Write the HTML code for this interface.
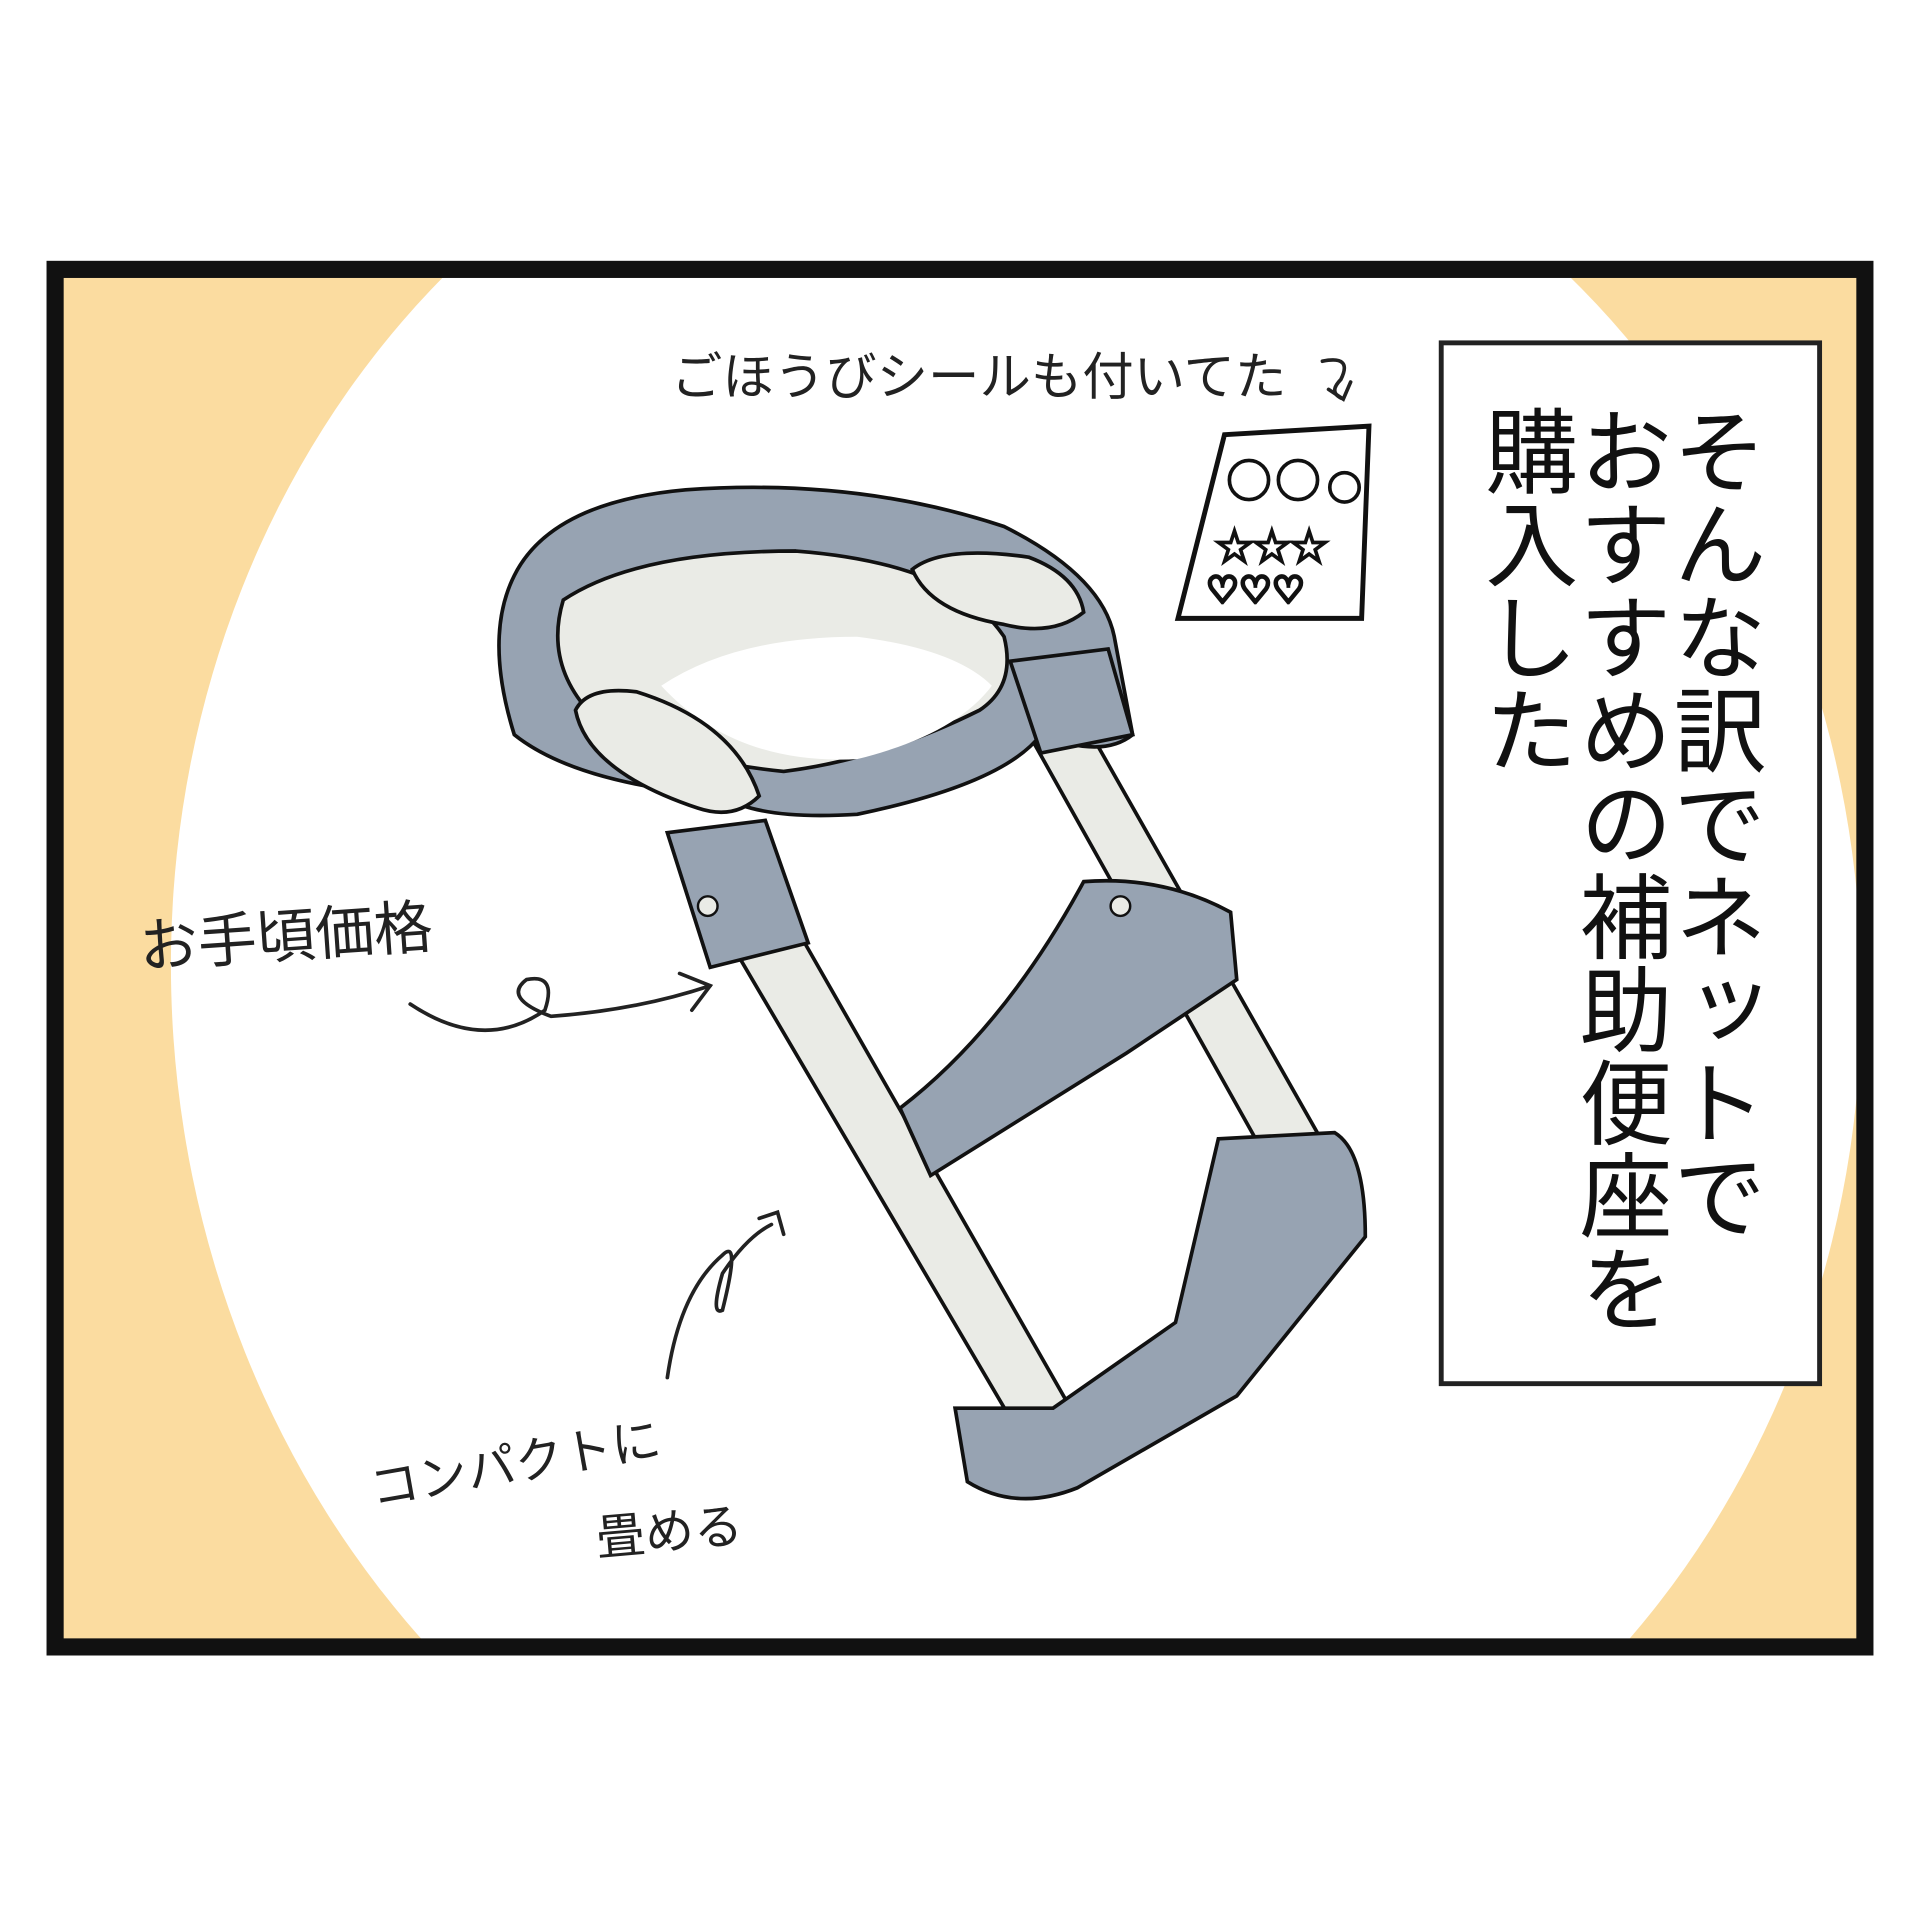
<!DOCTYPE html>
<html><head><meta charset="utf-8"><style>html,body{margin:0;padding:0;background:#fff}svg{display:block}</style></head>
<body>
<svg width="1920" height="1920" viewBox="0 0 1568 1568" xmlns="http://www.w3.org/2000/svg">
<defs><clipPath id="c"><rect x="45" y="220" width="1478" height="1125"/></clipPath></defs>
<rect width="1568" height="1568" fill="#fff"/>
<g clip-path="url(#c)">
<rect x="45" y="220" width="1478" height="1125" fill="#FBDCA0"/>
<ellipse cx="830" cy="800" rx="690" ry="770" fill="#fff" transform="rotate(-4 830 800)"/>
</g>
<rect x="45" y="220" width="1478" height="1125" fill="none" stroke="#111" stroke-width="14"/>
<rect x="1177" y="280" width="309" height="850" fill="#fff" stroke="#222" stroke-width="4"/>
<g font-family="'Liberation Sans','Noto Sans CJK JP',sans-serif" font-size="76" fill="#111">
<text x="1398" y="330" style="writing-mode:vertical-rl">そんな訳でネットで</text>
<text x="1321" y="330" style="writing-mode:vertical-rl">おすすめの補助便座を</text>
<text x="1244" y="330" style="writing-mode:vertical-rl">購入した</text>
</g>
<g font-family="'Liberation Sans','Noto Sans CJK JP',sans-serif" fill="#222">
<text x="548" y="322" font-size="42">ごほうびシールも付いてた</text>
<text x="115" y="790" font-size="48" transform="rotate(-4 115 790)">お手頃価格</text>
<text x="305" y="1230" font-size="40" transform="rotate(-10 305 1230)">コンパクトに</text>
<text x="488" y="1270" font-size="40" transform="rotate(-5 488 1270)">畳める</text>
</g>
<g fill="none" stroke="#222" stroke-width="3" stroke-linecap="round">
<path d="M1080 295 q25 -5 15 15 q-10 10 0 15"/><path d="M1085 318 l12 8 l6 -14"/>
<path d="M335 820 q60 40 110 5 q10 -30 -15 -25 q-20 15 20 30 q70 -5 130 -25"/><path d="M555 795 l25 10 l-15 20"/>
<path d="M545 1125 q10 -70 45 -100 q15 -15 0 45 q-10 5 0 -30 q20 -30 40 -40"/><path d="M620 995 l15 -5 l5 18"/>
</g>
<path d="M1000 355 L1118 348 L1112 505 L962 505 Z" fill="#fff" stroke="#111" stroke-width="4"/>
<g fill="none" stroke="#111" stroke-width="3">
<circle cx="1020" cy="392" r="16"/><circle cx="1060" cy="392" r="16"/><circle cx="1098" cy="398" r="12"/>
<text x="993" y="458" font-size="34" fill="#fff" stroke="#111">★★★</text>
<text x="985" y="492" font-size="30" fill="#fff" stroke="#111">♡♡♡</text>
</g>
<g stroke="#111" stroke-width="3">
<polygon points="585,750 640,740 880,1160 835,1175" fill="#EAEBE6"/>
<polygon points="835,590 880,580 1090,950 1045,965" fill="#EAEBE6"/>
<path d="M420 470 Q450 410 560 400 Q700 390 820 430 Q900 470 910 520 L925 600 Q900 620 850 600 Q820 640 700 665 Q620 670 590 650 Q470 640 420 600 Q395 520 420 470Z" fill="#97A3B2"/>
<path d="M460 490 Q520 450 650 450 Q780 460 820 520 Q830 560 800 580 Q720 620 640 630 Q540 620 480 580 Q445 540 460 490Z" fill="#EAEBE6"/>
<path d="M540 560 Q600 520 700 520 Q780 530 810 560 Q780 600 700 620 Q600 625 540 560Z" fill="#fff" stroke="none"/>
<path d="M470 580 Q480 560 520 565 Q600 590 620 650 Q600 670 570 660 Q480 630 470 580Z" fill="#EAEBE6"/>
<path d="M745 465 Q770 445 840 455 Q880 470 885 500 Q860 520 820 510 Q760 500 745 465Z" fill="#EAEBE6"/>
<path d="M545 680 L625 670 L660 770 L580 790 Z" fill="#97A3B2"/>
<path d="M825 540 L905 530 L925 600 L850 615 Z" fill="#97A3B2"/>
<path d="M885 720 Q950 715 1005 745 L1010 800 L920 860 L760 960 L735 905 Q820 840 885 720Z" fill="#97A3B2"/>
<path d="M995 930 L1090 925 Q1115 940 1115 1010 L1010 1140 L880 1215 Q830 1235 790 1210 L780 1150 L860 1150 L960 1080 Z" fill="#97A3B2"/>
</g>
<circle cx="578" cy="740" r="8" fill="#EAEBE6" stroke="#111" stroke-width="2"/>
<circle cx="915" cy="740" r="8" fill="#EAEBE6" stroke="#111" stroke-width="2"/>
</svg>
</body></html>
